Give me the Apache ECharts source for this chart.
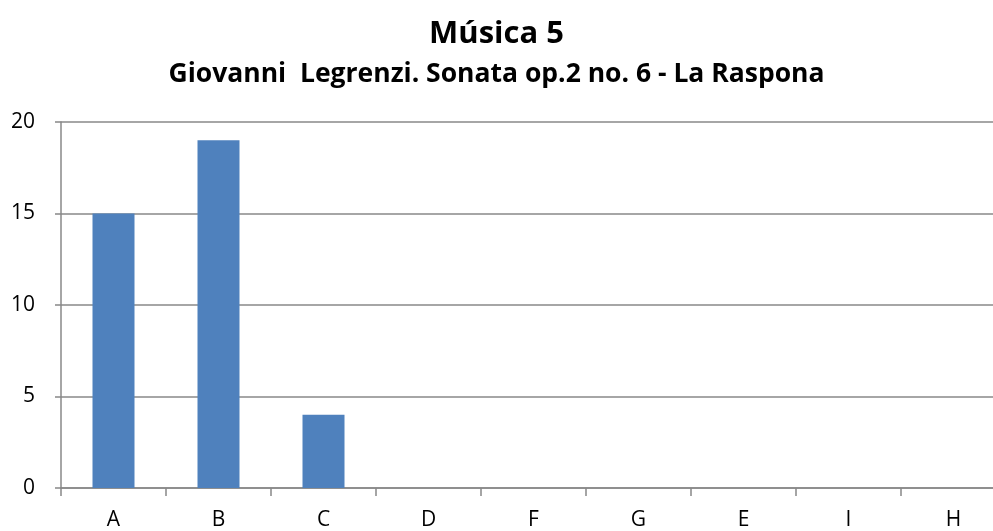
<!DOCTYPE html>
<html>
<head>
<meta charset="utf-8">
<script src="https://cdn.jsdelivr.net/npm/echarts@6/dist/echarts.min.js"></script>
<style>
  html, body { margin: 0; padding: 0; background: #fff; }
  #chart { width: 993px; height: 531px; }
</style>
</head>
<body>
<div id="chart"></div>
<script>
var categories = ['A', 'B', 'C', 'D', 'F', 'G', 'E', 'I', 'H'];
var values = [15, 19, 4, 0, 0, 0, 0, 0, 0];
var yTicks = [0, 5, 10, 15, 20];

var myChart = echarts.init(document.getElementById('chart'));
var font = '"Open Sans", "Liberation Sans", sans-serif';

var option = {
  animation: false,
  title: [{
    text: 'Música 5',
    left: 'center',
    top: 14,
    textStyle: { fontFamily: font, fontWeight: 'bold', fontSize: 31, color: '#000' }
  }, {
    text: 'Giovanni  Legrenzi. Sonata op.2 no. 6 - La Raspona',
    left: 'center',
    top: 56,
    textStyle: { fontFamily: font, fontWeight: 'bold', fontSize: 26.5, color: '#000' }
  }],
  grid: { left: 61, top: 122, width: 945, height: 366, outerBoundsMode: 'none' },
  xAxis: {
    type: 'category',
    data: categories,
    axisLine: { lineStyle: { color: '#888', width: 1.5 } },
    axisTick: { show: true, length: 8, lineStyle: { color: '#888', width: 1.5 } },
    axisLabel: { color: '#000', fontFamily: font, fontSize: 21, margin: 22 }
  },
  yAxis: {
    type: 'value',
    min: yTicks[0],
    max: yTicks[yTicks.length - 1],
    interval: 5,
    axisLine: { show: true, lineStyle: { color: '#888', width: 1.5 } },
    axisTick: { show: true, length: 6, lineStyle: { color: '#888', width: 1.5 } },
    splitLine: { lineStyle: { color: '#888', width: 1.5 } },
    axisLabel: { color: '#000', fontFamily: font, fontSize: 21, margin: 26 }
  },
  series: [{
    type: 'bar',
    data: values,
    barWidth: '40%',
    itemStyle: { color: '#4F81BD' }
  }]
};
myChart.setOption(option);
</script>
</body>
</html>
